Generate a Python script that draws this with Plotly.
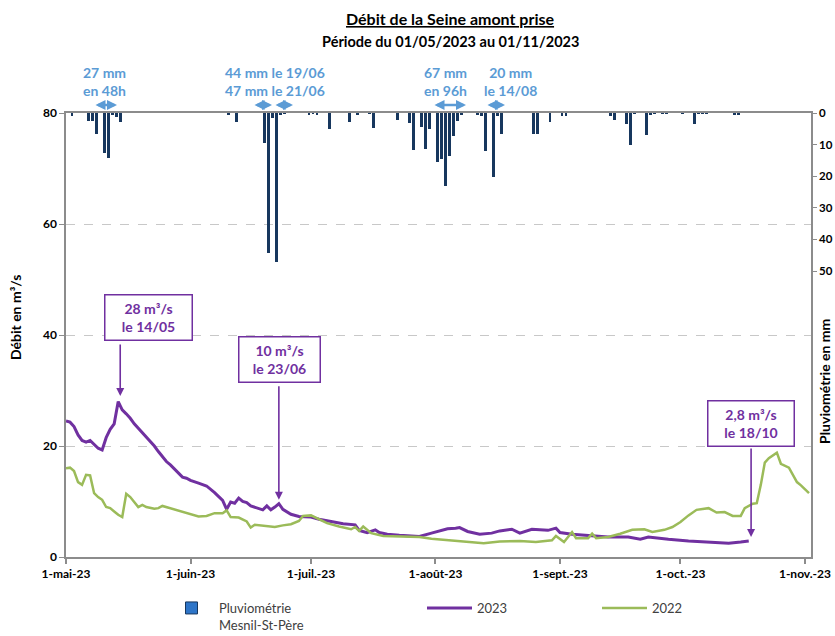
import plotly.graph_objects as go

# ---------------- data ----------------
rain_dates = ["2023-05-02", "2023-05-06", "2023-05-07", "2023-05-08", "2023-05-10", "2023-05-11",
              "2023-05-12", "2023-05-13", "2023-05-14", "2023-06-10", "2023-06-12", "2023-06-19",
              "2023-06-20", "2023-06-21", "2023-06-22", "2023-06-23", "2023-06-24", "2023-06-30",
              "2023-07-01", "2023-07-02", "2023-07-05", "2023-07-10", "2023-07-12", "2023-07-15",
              "2023-07-16", "2023-07-22", "2023-07-25", "2023-07-26", "2023-07-28", "2023-07-29",
              "2023-07-30", "2023-08-01", "2023-08-02", "2023-08-03", "2023-08-04", "2023-08-05",
              "2023-08-06", "2023-08-07", "2023-08-11", "2023-08-12", "2023-08-13", "2023-08-15",
              "2023-08-16", "2023-08-17", "2023-08-25", "2023-08-26", "2023-08-29", "2023-09-01",
              "2023-09-02", "2023-09-13", "2023-09-14", "2023-09-17", "2023-09-18", "2023-09-19",
              "2023-09-22", "2023-09-23", "2023-09-24", "2023-09-26", "2023-09-27", "2023-10-01",
              "2023-10-04", "2023-10-05", "2023-10-06", "2023-10-07", "2023-10-14", "2023-10-15"]
rain_mm = [1.0, 2.5, 2.5, 6.6, 12.5, 14.3,
           0.5, 1.3, 3.0, 0.4, 2.8, 9.4,
           44.2, 1.5, 47.0, 0.4, 0.3, 0.4,
           0.3, 0.4, 5.0, 2.8, 0.5, 0.3,
           4.8, 2.2, 3.1, 11.7, 4.3, 11.4,
           5.1, 15.5, 14.7, 23.1, 13.6, 7.3,
           2.6, 0.4, 0.4, 0.9, 12.1, 20.1,
           0.8, 6.7, 6.8, 6.6, 2.8, 0.9,
           0.9, 1.1, 2.1, 3.4, 10.1, 0.3,
           7.0, 0.4, 0.3, 0.3, 0.3, 0.3,
           3.5, 0.3, 0.3, 0.3, 0.5, 0.5]

flow23_dates = ["2023-05-01", "2023-05-02", "2023-05-03", "2023-05-04", "2023-05-05", "2023-05-06",
                "2023-05-07", "2023-05-08", "2023-05-09", "2023-05-10", "2023-05-11", "2023-05-12",
                "2023-05-13", "2023-05-14", "2023-05-15", "2023-05-16", "2023-05-17", "2023-05-18",
                "2023-05-19", "2023-05-20", "2023-05-21", "2023-05-22", "2023-05-23", "2023-05-24",
                "2023-05-25", "2023-05-26", "2023-05-27", "2023-05-28", "2023-05-29", "2023-05-30",
                "2023-05-31", "2023-06-01", "2023-06-03", "2023-06-05", "2023-06-07", "2023-06-09",
                "2023-06-10", "2023-06-11", "2023-06-12", "2023-06-13", "2023-06-14", "2023-06-15",
                "2023-06-16", "2023-06-17", "2023-06-18", "2023-06-19", "2023-06-20", "2023-06-21",
                "2023-06-22", "2023-06-23", "2023-06-24", "2023-06-26", "2023-06-28", "2023-07-01",
                "2023-07-03", "2023-07-06", "2023-07-09", "2023-07-12", "2023-07-13", "2023-07-15",
                "2023-07-17", "2023-07-18", "2023-07-20", "2023-07-23", "2023-07-28", "2023-07-31",
                "2023-08-03", "2023-08-04", "2023-08-06", "2023-08-07", "2023-08-09", "2023-08-12",
                "2023-08-15", "2023-08-17", "2023-08-20", "2023-08-22", "2023-08-25", "2023-08-29",
                "2023-08-31", "2023-09-01", "2023-09-04", "2023-09-07", "2023-09-10", "2023-09-13",
                "2023-09-18", "2023-09-21", "2023-09-23", "2023-09-26", "2023-09-28", "2023-10-03",
                "2023-10-08", "2023-10-13", "2023-10-16", "2023-10-18"]
flow23 = [24.5, 24.3, 23.5, 22.0, 21.0, 20.7,
          21.0, 20.3, 19.6, 19.3, 21.5, 23.0,
          24.0, 28.0, 26.5, 25.8, 25.0, 24.0,
          23.2, 22.3, 21.5, 20.8, 20.0, 19.0,
          18.0, 17.2, 16.6, 15.8, 15.0, 14.4,
          14.2, 13.8, 13.3, 12.8, 11.6, 10.2,
          8.6, 9.9, 9.7, 10.6, 10.0, 9.8,
          9.2, 9.0, 8.7, 8.5, 9.2, 8.5,
          9.0, 9.6, 8.6, 7.7, 7.3, 7.2,
          6.8, 6.4, 6.0, 5.8, 4.8, 4.4,
          4.9, 4.4, 4.1, 3.9, 3.7, 4.3,
          4.9, 5.1, 5.2, 5.3, 4.6, 4.1,
          4.3, 4.7, 5.0, 4.3, 5.0, 4.8,
          5.2, 4.4, 4.1, 3.9, 3.8, 3.6,
          3.6, 3.2, 3.6, 3.3, 3.2, 2.9,
          2.7, 2.5, 2.7, 2.9]

flow22_dates = ["2023-05-01", "2023-05-02", "2023-05-03", "2023-05-04", "2023-05-05", "2023-05-06",
                "2023-05-07", "2023-05-08", "2023-05-09", "2023-05-10", "2023-05-11", "2023-05-12",
                "2023-05-13", "2023-05-14", "2023-05-15", "2023-05-16", "2023-05-17", "2023-05-18",
                "2023-05-19", "2023-05-20", "2023-05-21", "2023-05-23", "2023-05-24", "2023-05-25",
                "2023-05-27", "2023-05-29", "2023-06-01", "2023-06-03", "2023-06-05", "2023-06-07",
                "2023-06-09", "2023-06-10", "2023-06-11", "2023-06-13", "2023-06-15", "2023-06-16",
                "2023-06-17", "2023-06-19", "2023-06-22", "2023-06-24", "2023-06-26", "2023-06-28",
                "2023-06-29", "2023-07-01", "2023-07-03", "2023-07-05", "2023-07-08", "2023-07-11",
                "2023-07-12", "2023-07-13", "2023-07-14", "2023-07-16", "2023-07-19", "2023-07-24",
                "2023-07-28", "2023-07-31", "2023-08-05", "2023-08-09", "2023-08-13", "2023-08-17",
                "2023-08-22", "2023-08-26", "2023-08-30", "2023-08-31", "2023-09-02", "2023-09-04",
                "2023-09-05", "2023-09-08", "2023-09-09", "2023-09-10", "2023-09-13", "2023-09-16",
                "2023-09-19", "2023-09-22", "2023-09-24", "2023-09-27", "2023-09-29", "2023-10-01",
                "2023-10-03", "2023-10-05", "2023-10-08", "2023-10-10", "2023-10-12", "2023-10-14",
                "2023-10-16", "2023-10-17", "2023-10-19", "2023-10-20", "2023-10-21", "2023-10-22",
                "2023-10-23", "2023-10-25", "2023-10-26", "2023-10-28", "2023-10-30", "2023-10-31",
                "2023-11-02"]
flow22 = [16.0, 16.1, 15.5, 13.5, 13.0, 14.8,
          14.7, 11.5, 10.8, 10.3, 9.0, 8.8,
          8.2, 7.6, 7.2, 11.4, 10.8, 10.0,
          9.0, 9.4, 9.0, 8.7, 8.8, 9.2,
          8.8, 8.3, 7.8, 7.3, 7.4, 7.9,
          7.9, 8.4, 7.2, 7.1, 6.4, 5.3,
          5.8, 5.6, 5.4, 5.7, 5.9, 6.5,
          7.4, 7.5, 6.8, 6.1, 5.5, 5.0,
          5.4, 4.7, 5.5, 4.3, 3.8, 3.7,
          3.6, 3.3, 3.0, 2.8, 2.5, 2.8,
          2.9, 2.7, 3.0, 3.8, 2.7, 4.5,
          3.4, 3.4, 4.2, 3.4, 3.6, 4.2,
          4.9, 5.0, 4.5, 4.9, 5.4, 6.3,
          7.5, 8.5, 8.8, 8.0, 8.1, 7.4,
          7.4, 8.8, 9.6, 9.7, 13.0, 17.0,
          17.8, 18.8, 16.8, 16.1, 13.5, 12.9,
          11.5]

month_ticks = ["2023-05-01", "2023-06-01", "2023-07-01", "2023-08-01",
               "2023-09-01", "2023-10-01", "2023-11-01"]
month_labels = ["1-mai-23", "1-juin-23", "1-juil.-23", "1-août-23",
                "1-sept.-23", "1-oct.-23", "1-nov.-23"]

# ---------------- style ----------------
PURPLE = "#7030A0"
GREEN = "#9BBB59"
NAVY = "#17375E"
BLUE = "#5B9BD5"
GRAY = "#8C8C8C"
FONT = "Lato"
DAY_MS = 86400000

fig = go.Figure()

fig.add_trace(go.Bar(
    x=rain_dates, y=rain_mm, yaxis="y2",
    marker=dict(color=NAVY, line=dict(width=0)),
    width=0.72 * DAY_MS, xperiod=DAY_MS, xperiodalignment="middle",
    showlegend=False, hoverinfo="x+y"))

# legend-only swatch for the rain series
fig.add_trace(go.Bar(
    x=[None], y=[None], yaxis="y2", name="Pluviométrie<br>Mesnil-St-Père",
    marker=dict(color="#2E75C8", line=dict(color=NAVY, width=1)),
    legend="legend"))

fig.add_trace(go.Scatter(
    x=flow23_dates, y=flow23, mode="lines", name="2023",
    line=dict(color=PURPLE, width=3), legend="legend2"))

fig.add_trace(go.Scatter(
    x=flow22_dates, y=flow22, mode="lines", name="2022",
    line=dict(color=GREEN, width=2.5), legend="legend3"))

def px_x(px):
    return (px - 66) / 745.0

def px_y(py):
    return (557 - py) / 444.0

ann = []
# titles
ann.append(dict(text="<b><u>Débit de la Seine amont prise</u></b>", x=px_x(450), y=px_y(18),
                font=dict(size=16, color="#000")))
ann.append(dict(text="<b>Période du 01/05/2023 au 01/11/2023</b>", x=px_x(450), y=px_y(42),
                font=dict(size=14.5, color="#000")))
ann.append(dict(text="<b>Débit en m³/s</b>", textangle=-90, x=px_x(15), y=px_y(318),
                font=dict(size=14, color="#000")))
ann.append(dict(text="<b>Pluviométrie en mm</b>", textangle=-90, x=px_x(824), y=px_y(381),
                font=dict(size=14, color="#000")))

# blue rainfall notes
for txt, cx in [("27 mm<br>en 48h", 104.5), ("44 mm le 19/06<br>47 mm le 21/06", 274.5),
                ("67 mm<br>en 96h", 445.5), ("20 mm<br>le 14/08", 510.5)]:
    ann.append(dict(text="<b>" + txt + "</b>", x=px_x(cx), y=px_y(81),
                    font=dict(size=14, color=BLUE)))
for x0, x1 in [(94, 117), (253, 272), (274, 293), (433, 466), (486, 505)]:
    ann.append(dict(text="", x=px_x(x1), y=px_y(105), ax=-(x1 - x0), ay=0,
                    showarrow=True, arrowside="end+start", arrowhead=2, arrowsize=0.8,
                    arrowwidth=2.5, arrowcolor=BLUE, standoff=0, startstandoff=0))

# purple boxes
boxes = [("28 m³/s<br>le 14/05", 148, 317, 80),
         ("10 m³/s<br>le 23/06", 279, 359.5, 74),
         ("2,8 m³/s<br>le 18/10", 751, 423, 79)]
for txt, cx, cy, w in boxes:
    ann.append(dict(text="<b>" + txt + "</b>", x=px_x(cx), y=px_y(cy), width=w, height=38,
                    font=dict(size=14, color=PURPLE), bordercolor=PURPLE, borderwidth=1.5,
                    borderpad=3, bgcolor="white"))

arrows = [("2023-05-14 12:00", 29.0, -53), ("2023-06-23", 10.3, -115), ("2023-10-18 14:00", 3.6, -90)]
for xd, yv, ay in arrows:
    ann.append(dict(text="", x=xd, y=yv, xref="x", yref="y", ax=0, ay=ay, showarrow=True,
                    arrowhead=2, arrowsize=1, arrowwidth=1.6, arrowcolor=PURPLE, standoff=0))

for a in ann:
    a.setdefault("xref", "paper")
    a.setdefault("yref", "paper")
    a.setdefault("showarrow", False)
    a.setdefault("xanchor", "center")
    a.setdefault("yanchor", "middle")
    a.setdefault("font", {}).setdefault("family", FONT)

legend_common = dict(orientation="h", yanchor="top", y=px_y(593), xanchor="left",
                     bgcolor="rgba(0,0,0,0)", font=dict(family=FONT, size=13, color="#404040"),
                     valign="top", itemclick=False, itemwidth=45)

fig.update_layout(
    width=835, height=636,
    margin=dict(l=66, r=24, t=113, b=79, autoexpand=False),
    paper_bgcolor="white", plot_bgcolor="white",
    font=dict(family=FONT, color="#000"),
    bargap=0,
    annotations=ann,
    xaxis=dict(type="date", range=["2023-05-01", "2023-11-02 12:00"],
               tickvals=month_ticks, ticktext=month_labels, automargin=False,
               ticks="outside", ticklen=5, tickcolor=GRAY, tickwidth=1.5,
               showline=True, linecolor=GRAY, linewidth=1.5, mirror=True,
               showgrid=False, zeroline=False,
               tickfont=dict(family=FONT, size=12, color="#000", weight="bold")),
    yaxis=dict(range=[0, 80], tickvals=[0, 20, 40, 60, 80], automargin=False,
               showgrid=True, gridcolor="#C8C8C8", griddash="dash", gridwidth=1,
               showline=True, linecolor=GRAY, linewidth=1.5, zeroline=False,
               ticks="outside", ticklen=5, tickcolor=GRAY,
               tickfont=dict(family=FONT, size=12, color="#000", weight="bold")),
    yaxis2=dict(overlaying="y", side="right", range=[140.5, 0], automargin=False,
                tickvals=[0, 10, 20, 30, 40, 50], showgrid=False,
                showline=True, linecolor=GRAY, linewidth=1.5, zeroline=False,
                ticks="outside", ticklen=4, tickcolor=GRAY,
                tickfont=dict(family=FONT, size=11.5, color="#000", weight="bold")),
    legend=dict(x=px_x(164), **legend_common),
    legend2=dict(x=px_x(422), **legend_common),
    legend3=dict(x=px_x(597), **legend_common),
)

# remove the default page margin so the 835x636 figure fills the window exactly
page_css = ("document.body.style.margin='0';"
            "document.body.style.padding='0';"
            "document.body.style.overflow='hidden';")

fig.write_html("out.html", post_script=page_css, config={"displayModeBar": False})
